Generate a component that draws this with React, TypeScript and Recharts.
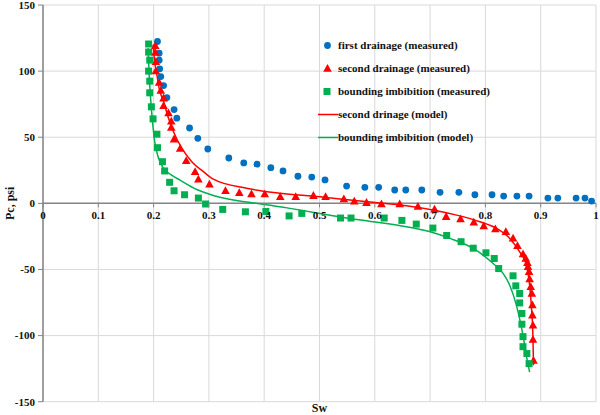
import React from 'react';
import { ComposedChart, Scatter, Line, XAxis, YAxis, CartesianGrid, ReferenceLine, Legend } from 'recharts';

// ---- data ----
const swTicks = [0, 0.1, 0.2, 0.3, 0.4, 0.5, 0.6, 0.7, 0.8, 0.9, 1];
const pcTicks = [-150, -100, -50, 0, 50, 100, 150];

const firstDrainageSw = [0.207, 0.210, 0.210, 0.211, 0.213, 0.218, 0.224, 0.237, 0.242, 0.265, 0.280, 0.298, 0.336, 0.363, 0.387, 0.412, 0.434, 0.461, 0.486, 0.510, 0.549, 0.582, 0.607, 0.636, 0.656, 0.685, 0.718, 0.752, 0.781, 0.812, 0.833, 0.857, 0.879, 0.913, 0.931, 0.964, 0.980, 0.992];
const firstDrainagePc = [122.4, 113.6, 108.3, 101.7, 95.9, 89.1, 80.0, 70.9, 64.4, 57.0, 49.2, 41.1, 34.3, 30.6, 29.6, 27.0, 24.5, 20.5, 19.9, 17.7, 13.1, 12.1, 12.1, 10.1, 10.1, 10.1, 8.3, 8.3, 6.5, 6.5, 5.5, 5.5, 5.5, 4.0, 4.0, 4.0, 4.0, 1.7];

const secondDrainageSw = [0.203, 0.203, 0.204, 0.204, 0.210, 0.213, 0.218, 0.218, 0.227, 0.232, 0.232, 0.237, 0.248, 0.259, 0.275, 0.281, 0.301, 0.330, 0.355, 0.377, 0.401, 0.429, 0.457, 0.489, 0.511, 0.544, 0.563, 0.585, 0.612, 0.645, 0.678, 0.708, 0.729, 0.755, 0.779, 0.797, 0.818, 0.837, 0.850, 0.858, 0.868, 0.873, 0.876, 0.877, 0.879, 0.880, 0.882, 0.884, 0.885, 0.885, 0.886, 0.886, 0.887];
const secondDrainagePc = [119.2, 114.1, 107.0, 100.0, 91.4, 85.3, 79.5, 73.7, 68.2, 62.1, 57.3, 48.5, 41.4, 32.1, 23.9, 18.2, 14.4, 9.5, 8.0, 7.0, 7.0, 5.0, 5.0, 5.8, 5.0, 3.3, 1.5, 0.5, -0.5, -0.5, -2.5, -4.5, -10.1, -11.9, -14.4, -17.2, -19.5, -21.5, -26.5, -32.1, -38.4, -41.7, -45.0, -48.0, -51.8, -57.3, -63.2, -68.2, -77.0, -84.6, -92.2, -103.0, -118.9];

const imbibitionSw = [0.191, 0.191, 0.193, 0.191, 0.193, 0.193, 0.196, 0.199, 0.206, 0.207, 0.216, 0.220, 0.229, 0.237, 0.256, 0.281, 0.294, 0.325, 0.366, 0.403, 0.445, 0.468, 0.538, 0.557, 0.617, 0.649, 0.675, 0.705, 0.730, 0.756, 0.778, 0.801, 0.816, 0.824, 0.850, 0.855, 0.862, 0.862, 0.866, 0.866, 0.868, 0.868, 0.875, 0.879];
const imbibitionPc = [120.5, 114.4, 108.3, 100.0, 92.4, 83.6, 73.0, 63.9, 52.3, 42.1, 31.5, 24.5, 15.9, 9.5, 6.5, 4.0, -0.5, -4.6, -6.4, -6.1, -9.5, -7.6, -11.1, -11.1, -11.1, -12.9, -15.7, -18.7, -24.3, -29.0, -33.9, -37.4, -41.7, -49.3, -54.8, -62.4, -68.2, -75.3, -83.3, -91.4, -100.8, -108.4, -113.6, -121.2];

const secondDrainageModelSw = [0.199, 0.202, 0.206, 0.210, 0.218, 0.227, 0.236, 0.251, 0.269, 0.290, 0.308, 0.368, 0.429, 0.501, 0.537, 0.597, 0.657, 0.705, 0.748, 0.790, 0.820, 0.844, 0.862, 0.874, 0.880, 0.883, 0.886, 0.887];
const secondDrainageModelPc = [120, 107, 97, 87, 77, 64.4, 54.2, 41.7, 31.5, 24, 18.3, 11.4, 7.6, 5, 3.3, 0.8, -1.8, -5, -8.9, -13.9, -18.9, -26.5, -36.7, -46.7, -61.9, -77, -102, -122.5];

const imbibitionModelSw = [0.190, 0.192, 0.195, 0.198, 0.202, 0.209, 0.218, 0.232, 0.248, 0.278, 0.308, 0.368, 0.404, 0.447, 0.501, 0.540, 0.597, 0.657, 0.700, 0.736, 0.778, 0.814, 0.832, 0.844, 0.856, 0.869, 0.874, 0.880];
const imbibitionModelPc = [117.4, 97.2, 77, 61.8, 46.7, 34.1, 26.5, 21.5, 17.5, 10.5, 6, 1, -1, -3.8, -7.6, -10.5, -13.9, -17.7, -21.5, -26.5, -34.1, -45.5, -53, -61.9, -77, -102.3, -115, -127.6];

const seriesNames = [
  'first drainage (measured)',
  'second drainage (measured)',
  'bounding imbibition (measured)',
  'second drinage (model)',
  'bounding imbibition (model)',
];

const zip = (xs: number[], ys: number[]) => xs.map((x, i) => ({ x, y: ys[i] }));

// ---- style ----
const BLUE = '#0070C0';
const RED = '#FF0000';
const GREEN = '#00B050';
const AXIS = '#868686';
const GRID = '#D9D9D9';
const FONT = '"Times New Roman", "Liberation Serif", serif';

const W = 600;
const H = 415;
const M = { top: 5, right: 4, bottom: 0, left: 0 };
const Y_AXIS_W = 43;
const X_AXIS_H = 13.3;
const PLOT_H = H - M.top - M.bottom - X_AXIS_H;
const ZERO_Y = M.top + PLOT_H / 2;

const CircleShape = (p: any) => <circle cx={p.cx} cy={p.cy} r={3.4} fill={BLUE} />;
const TriangleShape = (p: any) => (
  <polygon points={`${p.cx},${p.cy - 4.6} ${p.cx - 4.3},${p.cy + 3.2} ${p.cx + 4.3},${p.cy + 3.2}`} fill={RED} />
);
const SquareShape = (p: any) => <rect x={p.cx - 3.5} y={p.cy - 3.5} width={7} height={7} fill={GREEN} />;

const XTick = (p: any) => (
  <g>
    <line x1={p.x} x2={p.x} y1={ZERO_Y} y2={ZERO_Y + 4} stroke={AXIS} strokeWidth={1} />
    <text x={p.x} y={ZERO_Y + 16} textAnchor="middle" style={{ fontFamily: FONT, fontWeight: 700, fontSize: 11 }} fill="#111">
      {String(p.payload.value)}
    </text>
  </g>
);

const legendSymbols = [
  <circle cx={11.5} cy={11.5} r={3.4} fill={BLUE} />,
  <polygon points="11.5,6.9 7.2,14.7 15.8,14.7" fill={RED} />,
  <rect x={7.5} y={8} width={7} height={7} fill={GREEN} />,
  <line x1={2} x2={22} y1={11.5} y2={11.5} stroke={RED} strokeWidth={1.5} />,
  <line x1={2} x2={22} y1={11.5} y2={11.5} stroke={GREEN} strokeWidth={1.5} />,
];

const LegendBox = () => (
  <div style={{ fontFamily: FONT, fontWeight: 700, fontSize: 11, color: '#111' }}>
    {seriesNames.map((name, i) => (
      <div key={name} style={{ display: 'flex', alignItems: 'center', height: 23, whiteSpace: 'nowrap' }}>
        <svg width={22} height={23} style={{ display: 'block' }}>{legendSymbols[i]}</svg>
        <span>{name}</span>
      </div>
    ))}
  </div>
);

const axisText = { fontFamily: FONT, fontWeight: 700, fontSize: 11, fill: '#111' };

export default function App() {
  return (
    <div style={{ position: 'absolute', left: 0, top: 0, width: W, height: H, background: '#fff' }}>
      <ComposedChart width={W} height={H} margin={M}>
        <CartesianGrid stroke={GRID} strokeWidth={1} horizontalValues={pcTicks} verticalValues={swTicks} />
        <XAxis
          type="number"
          dataKey="x"
          domain={[0, 1]}
          ticks={swTicks}
          height={X_AXIS_H}
          axisLine={false}
          tickLine={false}
          tick={<XTick />}
          interval={0}
          label={{ value: 'Sw', position: 'insideBottom', offset: 3, style: { ...axisText, fontSize: 12 } }}
        />
        <YAxis
          type="number"
          dataKey="y"
          domain={[-150, 150]}
          ticks={pcTicks}
          width={Y_AXIS_W}
          interval={0}
          allowDataOverflow
          axisLine={{ stroke: AXIS, strokeWidth: 1.5 }}
          tickLine={{ stroke: AXIS }}
          tickSize={5}
          tickMargin={3}
          tick={{ style: axisText }}
          label={{ value: 'Pc, psi', angle: -90, position: 'insideLeft', offset: 10, style: { ...axisText, fontSize: 12, textAnchor: 'middle' } }}
        />
        <ReferenceLine y={0} stroke={AXIS} strokeWidth={1.5} />
        <Legend layout="vertical" align="center" verticalAlign="middle" wrapperStyle={{ left: 316, top: 33.5, width: 260 }} content={() => <LegendBox />} />
        <Line data={zip(secondDrainageModelSw, secondDrainageModelPc)} dataKey="y" name={seriesNames[3]} type="monotone" stroke={RED} strokeWidth={1.5} dot={false} activeDot={false} isAnimationActive={false} />
        <Line data={zip(imbibitionModelSw, imbibitionModelPc)} dataKey="y" name={seriesNames[4]} type="monotone" stroke={GREEN} strokeWidth={1.5} dot={false} activeDot={false} isAnimationActive={false} />
        <Scatter data={zip(firstDrainageSw, firstDrainagePc)} dataKey="y" name={seriesNames[0]} shape={CircleShape} isAnimationActive={false} />
        <Scatter data={zip(secondDrainageSw, secondDrainagePc)} dataKey="y" name={seriesNames[1]} shape={TriangleShape} isAnimationActive={false} />
        <Scatter data={zip(imbibitionSw, imbibitionPc)} dataKey="y" name={seriesNames[2]} shape={SquareShape} isAnimationActive={false} />
      </ComposedChart>
    </div>
  );
}
